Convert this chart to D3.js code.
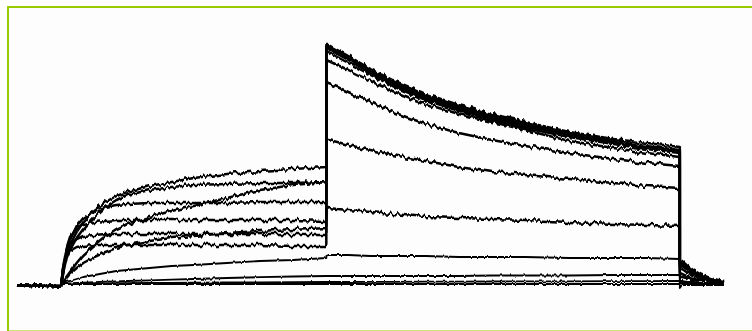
<!DOCTYPE html>
<html>
<head>
<meta charset="utf-8">
<script src="https://cdn.jsdelivr.net/npm/d3@7"></script>
<style>
	html, body { margin: 0; padding: 0; background: #fff; overflow: hidden; }
	svg { display: block; }
</style>
</head>
<body>
<div id="chart"></div>
<script>
// sample times (ms) for each part of the protocol
const baseT = [0, 5, 10, 15, 20];
const stepT = [20, 21, 22, 24, 27, 30, 35, 40, 45, 50, 60, 70, 80, 95, 110, 125, 140];
const testT = [140, 141, 145, 150, 160, 170, 185, 200, 215, 230, 250, 270, 285, 300];
const tailT = [300, 301, 303, 306, 310, 315, 320];

// holding current before the step (pA)
const baseline = [-15, -20, -15, -20, -15];

// currents (pA) during the conditioning step, one row per sweep
const stepI = [
	[0, 140, 260, 390, 520, 620, 740, 820, 880, 920, 980, 1020, 1060, 1100, 1130, 1150, 1170],
	[0, 120, 220, 340, 460, 550, 670, 770, 840, 890, 940, 970, 990, 1000, 1010, 1010, 1020],
	[0, 30, 60, 120, 210, 290, 390, 480, 550, 600, 670, 730, 780, 860, 940, 990, 1020],
	[0, 160, 290, 440, 580, 660, 730, 770, 790, 800, 810, 810, 810, 810, 820, 820, 820],
	[0, 180, 320, 460, 560, 600, 620, 630, 640, 640, 640, 640, 640, 640, 640, 640, 630],
	[0, 170, 290, 390, 450, 480, 490, 500, 500, 500, 500, 500, 500, 500, 500, 500, 500],
	[0, 150, 250, 330, 370, 380, 390, 390, 390, 390, 390, 390, 390, 390, 390, 380, 380],
	[0, 20, 50, 100, 160, 210, 270, 320, 360, 390, 430, 460, 480, 510, 530, 550, 570],
	[0, 10, 20, 30, 50, 70, 90, 110, 130, 140, 160, 180, 190, 210, 230, 240, 260],
	[0, 0, 0, 5, 10, 13, 18, 23, 27, 30, 37, 44, 50, 60, 68, 75, 80],
	[0, 0, 0, 2, 4, 5, 6, 7, 8, 9, 10, 12, 13, 15, 17, 18, 20],
	[0, 0, 0, 0, 0, 0, 0, 0, 0, 0, 0, 0, 0, 0, 0, 0, 0]
];

// currents (pA) during the test pulse
const testI = [
	[2390, 2390, 2340, 2280, 2150, 2040, 1900, 1790, 1700, 1620, 1520, 1450, 1410, 1370],
	[2370, 2370, 2320, 2260, 2130, 2020, 1880, 1770, 1680, 1600, 1500, 1430, 1380, 1340],
	[2350, 2350, 2300, 2240, 2110, 2000, 1860, 1750, 1660, 1580, 1490, 1420, 1370, 1330],
	[2320, 2320, 2270, 2210, 2090, 1980, 1840, 1730, 1640, 1560, 1470, 1400, 1350, 1310],
	[2240, 2230, 2190, 2140, 2030, 1930, 1800, 1700, 1620, 1540, 1430, 1360, 1310, 1270],
	[2010, 2000, 1970, 1920, 1820, 1720, 1600, 1510, 1440, 1380, 1310, 1250, 1210, 1180],
	[1440, 1440, 1420, 1390, 1340, 1290, 1230, 1170, 1120, 1090, 1050, 1010, 980, 960],
	[740, 760, 750, 740, 720, 700, 670, 660, 650, 640, 620, 600, 590, 580],
	[280, 290, 290, 290, 280, 280, 280, 270, 270, 270, 260, 260, 260, 250],
	[80, 80, 80, 80, 80, 80, 80, 80, 85, 85, 85, 90, 90, 90],
	[20, 20, 20, 20, 22, 22, 24, 24, 25, 26, 27, 28, 29, 30],
	[0, 0, 0, 0, 0, 0, 0, 0, 0, 0, 0, 0, 0, 0]
];

// tail currents (pA) after the test pulse
const tailI = [
	[240, 230, 190, 140, 90, 50, 30],
	[230, 220, 180, 130, 80, 50, 20],
	[220, 210, 170, 120, 80, 40, 20],
	[210, 200, 160, 120, 70, 40, 20],
	[190, 180, 150, 110, 70, 40, 20],
	[160, 150, 120, 90, 60, 30, 10],
	[110, 100, 80, 60, 40, 20, 10],
	[70, 70, 60, 40, 30, 20, 10],
	[30, 30, 20, 20, 10, 10, 10],
	[10, 10, 10, 10, 10, 10, 10],
	[10, 10, 10, 10, 10, 10, 10],
	[-40, -10, -10, -10, -10, -10, -10]
];

const width = 752;
const height = 331;

const svg = d3.select('#chart')
	.append('svg')
	.attr('width', width)
	.attr('height', height);

// jagged recording noise is a rendering effect only, values stay as read
const defs = svg.append('defs');
const addJitter = (id, amount, seed) => {
	const f = defs.append('filter')
		.attr('id', id)
		.attr('filterUnits', 'userSpaceOnUse')
		.attr('x', 0).attr('y', 0)
		.attr('width', width).attr('height', height)
		.attr('color-interpolation-filters', 'sRGB');
	f.append('feTurbulence')
		.attr('type', 'fractalNoise')
		.attr('baseFrequency', '0.3 0.015')
		.attr('numOctaves', 2)
		.attr('seed', seed)
		.attr('result', 'turb');
	f.append('feColorMatrix')
		.attr('in', 'turb')
		.attr('type', 'matrix')
		.attr('values', '0 0 0 0 0.5  0 1 0 0 0  0 0 0 0 0  0 0 0 0 1')
		.attr('result', 'dy');
	f.append('feDisplacementMap')
		.attr('in', 'SourceGraphic')
		.attr('in2', 'dy')
		.attr('scale', amount)
		.attr('xChannelSelector', 'R')
		.attr('yChannelSelector', 'G');
};
addJitter('jitter-big', 7, 3);
addJitter('jitter-small', 3, 5);

svg.append('rect')
	.attr('x', 8)
	.attr('y', 7)
	.attr('width', 770)
	.attr('height', 324.5)
	.attr('fill', '#fdfdfd')
	.attr('stroke', '#99cc00')
	.attr('stroke-width', 2);

const x = d3.scaleLinear().domain([0, 320]).range([17, 724]);
const y = d3.scaleLinear().domain([0, 2400]).range([284, 44]);

const sweeps = stepI.map((row, i) => {
	const pts = [];
	baseT.forEach((t, j) => pts.push([t, baseline[j]]));
	stepT.forEach((t, j) => pts.push([t, row[j]]));
	testT.forEach((t, j) => pts.push([t, testI[i][j]]));
	pts.push([300, testI[i][testI[i].length - 1]]);
	tailT.forEach((t, j) => pts.push([t, tailI[i][j]]));
	return { i, pts };
});

const line = d3.line()
	.x(d => x(d[0]))
	.y(d => y(d[1]));

const drawGroup = (rows, filter, w) => {
	svg.append('g')
		.attr('filter', `url(#${filter})`)
		.selectAll('path')
		.data(rows)
		.enter()
		.append('path')
		.attr('d', d => line(d.pts))
		.attr('fill', 'none')
		.attr('stroke', '#000')
		.attr('stroke-width', w)
		.attr('stroke-linejoin', 'round');
};

drawGroup(sweeps.filter(d => d.i < 8), 'jitter-big', 2.5);
drawGroup(sweeps.filter(d => d.i >= 8), 'jitter-small', 1.8);
</script>
</body>
</html>
